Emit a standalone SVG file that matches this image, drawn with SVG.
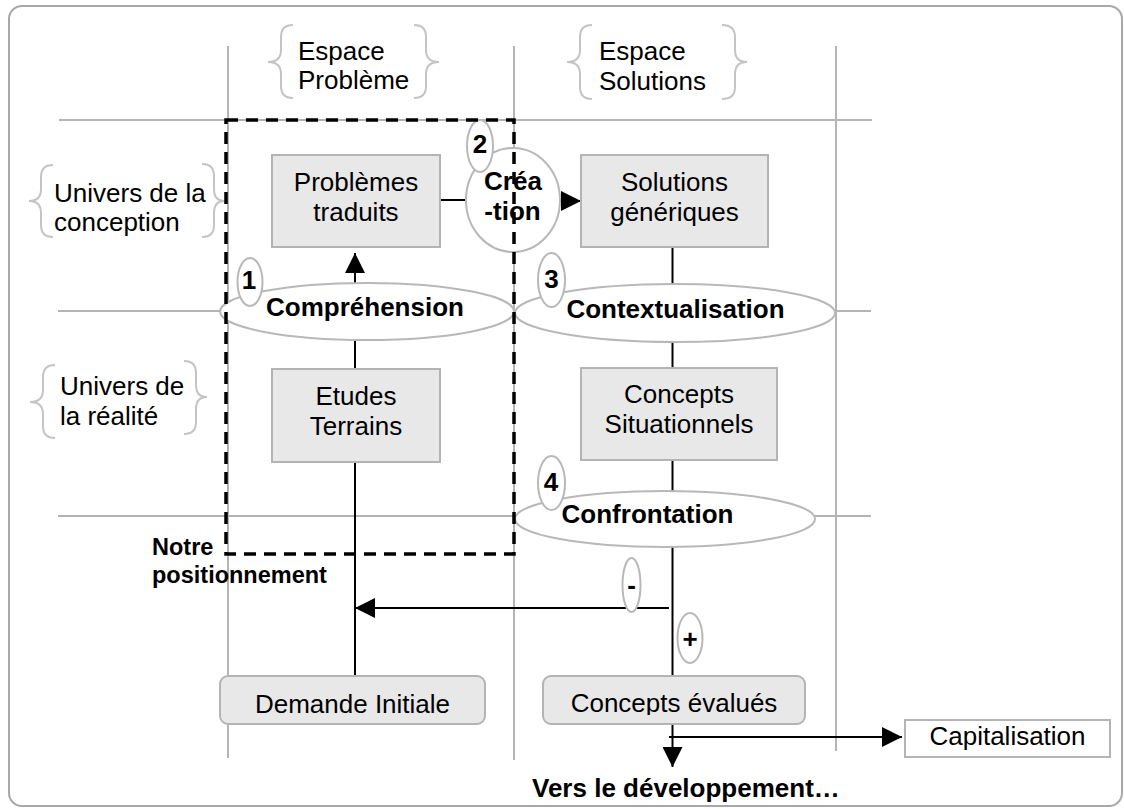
<svg xmlns="http://www.w3.org/2000/svg" width="1124" height="809" viewBox="0 0 1124 809">
<style>
.t{font-family:"Liberation Sans",Arial,sans-serif;font-size:26px;fill:#000}
.b{font-weight:bold}
.m{text-anchor:middle}
.grid{stroke:#b4b4b4;stroke-width:2;fill:none}
.brace{stroke:#c4c4c4;stroke-width:2;fill:none}
.box{fill:#e8e8e8;stroke:#b4b4b4;stroke-width:2}
.ell{fill:#fff;stroke:#b8b8b8;stroke-width:2}
.con{stroke:#000;stroke-width:2;fill:none}
.dash{stroke:#000;stroke-width:3.5;fill:none;stroke-dasharray:12 8}
</style>
<defs>
<marker id="ah" viewBox="0 0 20 20" refX="20" refY="10" markerWidth="20" markerHeight="20" markerUnits="userSpaceOnUse" orient="auto"><path d="M0,0 L20,10 L0,20 z" fill="#000"/></marker>
<clipPath id="clipEval"><rect x="543" y="676" width="262" height="39"/></clipPath>
</defs>
<rect x="9" y="6" width="1113" height="800" rx="13" fill="#fff" stroke="#a8a8a8" stroke-width="2"/>
<g id="grid">
<line class="grid" x1="228" y1="46" x2="228" y2="758"/>
<line class="grid" x1="514" y1="46" x2="514" y2="760"/>
<line class="grid" x1="836" y1="46" x2="836" y2="751"/>
<line class="grid" x1="59" y1="120" x2="872" y2="120"/>
<line class="grid" x1="58" y1="311" x2="871" y2="311"/>
<line class="grid" x1="58" y1="516" x2="871" y2="516"/>
</g>
<g id="headers">
<path class="brace" d="M293,25 Q281,25 281,37 L281,50 Q281,62 268,62 Q281,62 281,74 L281,86 Q281,98 293,98"/>
<path class="brace" d="M414,25 Q426,25 426,37 L426,50 Q426,62 439,62 Q426,62 426,74 L426,86 Q426,98 414,98"/>
<text class="t" x="298" y="60">Espace</text>
<text class="t" x="298" y="89">Problème</text>
<path class="brace" d="M592,25 Q580,25 580,37 L580,50 Q580,62 567,62 Q580,62 580,74 L580,87 Q580,99 592,99"/>
<path class="brace" d="M722,25 Q735,25 735,37 L735,50 Q735,62 747,62 Q735,62 735,74 L735,87 Q735,99 722,99"/>
<text class="t" x="599" y="60">Espace</text>
<text class="t" x="599" y="90">Solutions</text>
<path class="brace" d="M53,165 Q41,165 41,177 L41,189 Q41,201 29,201 Q41,201 41,213 L41,225 Q41,237 53,237"/>
<path class="brace" d="M202,164 Q214,164 214,176 L214,189 Q214,201 225,201 Q214,201 214,213 L214,225 Q214,237 202,237"/>
<text class="t" x="54" y="202">Univers de la</text>
<text class="t" x="54" y="231">conception</text>
<path class="brace" d="M55,365 Q43,365 43,377 L43,390 Q43,402 30,402 Q43,402 43,414 L43,426 Q43,438 55,438"/>
<path class="brace" d="M184,361 Q196,361 196,373 L196,385 Q196,397 207,397 Q196,397 196,409 L196,422 Q196,434 184,434"/>
<text class="t" x="60" y="395">Univers de</text>
<text class="t" x="60" y="425">la réalité</text>
</g>
<g id="connectors">
<line class="con" x1="355" y1="676" x2="355" y2="462"/>
<line class="con" x1="355" y1="369" x2="355" y2="340"/>
<line class="con" x1="355" y1="283" x2="355" y2="253" marker-end="url(#ah)"/>
<line class="con" x1="440" y1="200" x2="467" y2="200"/>
<line class="con" x1="558" y1="201" x2="581" y2="201" marker-end="url(#ah)"/>
<line class="con" x1="672.5" y1="247" x2="672.5" y2="284"/>
<line class="con" x1="672.5" y1="342" x2="672.5" y2="368"/>
<line class="con" x1="672.5" y1="460" x2="672.5" y2="491"/>
<line class="con" x1="672.5" y1="547" x2="672.5" y2="676"/>
<line class="con" x1="669" y1="608" x2="355" y2="608" marker-end="url(#ah)"/>
<line class="con" x1="672.5" y1="724" x2="672.5" y2="767" marker-end="url(#ah)"/>
<line class="con" x1="669" y1="737" x2="902" y2="737" marker-end="url(#ah)"/>
</g>
<g id="problemes-traduits">
<rect class="box" x="272" y="155" width="168" height="92"/>
<text class="t m" x="356" y="191">Problèmes</text>
<text class="t m" x="356" y="221">traduits</text>
</g>
<g id="solutions-generiques">
<rect class="box" x="581" y="155" width="187" height="92"/>
<text class="t m" x="674.5" y="191">Solutions</text>
<text class="t m" x="674.5" y="221">génériques</text>
</g>
<g id="etudes-terrains">
<rect class="box" x="272" y="369" width="168" height="93"/>
<text class="t m" x="356" y="405">Etudes</text>
<text class="t m" x="356" y="435">Terrains</text>
</g>
<g id="concepts-situationnels">
<rect class="box" x="581" y="368" width="196" height="92"/>
<text class="t m" x="679" y="403">Concepts</text>
<text class="t m" x="679" y="433">Situationnels</text>
</g>
<g id="demande-initiale">
<rect class="box" x="220" y="676" width="265" height="48" rx="8"/>
<text class="t m" x="352.5" y="713">Demande Initiale</text>
</g>
<g id="concepts-evalues">
<rect class="box" x="543" y="676" width="262" height="48" rx="8"/>
<text class="t m" x="674" y="712" clip-path="url(#clipEval)">Concepts évalués</text>
</g>
<g id="capitalisation">
<rect x="905" y="720" width="205" height="37" fill="#fff" stroke="#b4b4b4" stroke-width="2"/>
<text class="t m" x="1007.5" y="745">Capitalisation</text>
</g>
<g id="comprehension">
<ellipse class="ell" cx="367" cy="311.5" rx="147" ry="28.5"/>
<text class="t b m" x="365" y="316">Compréhension</text>
<ellipse class="ell" cx="250" cy="282" rx="12.5" ry="24"/>
<text class="t b m" x="249" y="289">1</text>
</g>
<g id="creation">
<ellipse class="ell" cx="513" cy="200" rx="47" ry="52"/>
<text class="t b m" x="513" y="190">Créa</text>
<text class="t b m" x="512.5" y="220">-tion</text>
<ellipse class="ell" cx="480" cy="146" rx="13" ry="26"/>
<text class="t b m" x="480" y="153">2</text>
</g>
<g id="contextualisation">
<ellipse class="ell" cx="675" cy="313" rx="160" ry="29"/>
<text class="t b m" x="675.5" y="318">Contextualisation</text>
<ellipse class="ell" cx="551.5" cy="280" rx="13.5" ry="27"/>
<text class="t b m" x="551.5" y="288">3</text>
</g>
<g id="confrontation">
<ellipse class="ell" cx="665" cy="519" rx="150" ry="28"/>
<text class="t b m" x="647.5" y="523">Confrontation</text>
<ellipse class="ell" cx="551.5" cy="483" rx="13.5" ry="27"/>
<text class="t b m" x="551" y="491">4</text>
</g>
<g id="moins">
<ellipse class="ell" cx="631.5" cy="585" rx="9" ry="27"/>
<text class="t b m" x="631.5" y="594">-</text>
</g>
<g id="plus">
<ellipse class="ell" cx="690" cy="638" rx="12.5" ry="25"/>
<text class="t b m" x="690" y="648">+</text>
</g>
<g id="notre-positionnement">
<rect class="dash" x="226" y="120" width="288" height="434"/>
<text class="t b" x="152" y="555" style="font-size:23.5px">Notre</text>
<text class="t b" x="152" y="583" style="font-size:23.5px">positionnement</text>
</g>
<g id="vers-developpement">
<text class="t b" x="532" y="797">Vers le développement…</text>
</g>
</svg>
